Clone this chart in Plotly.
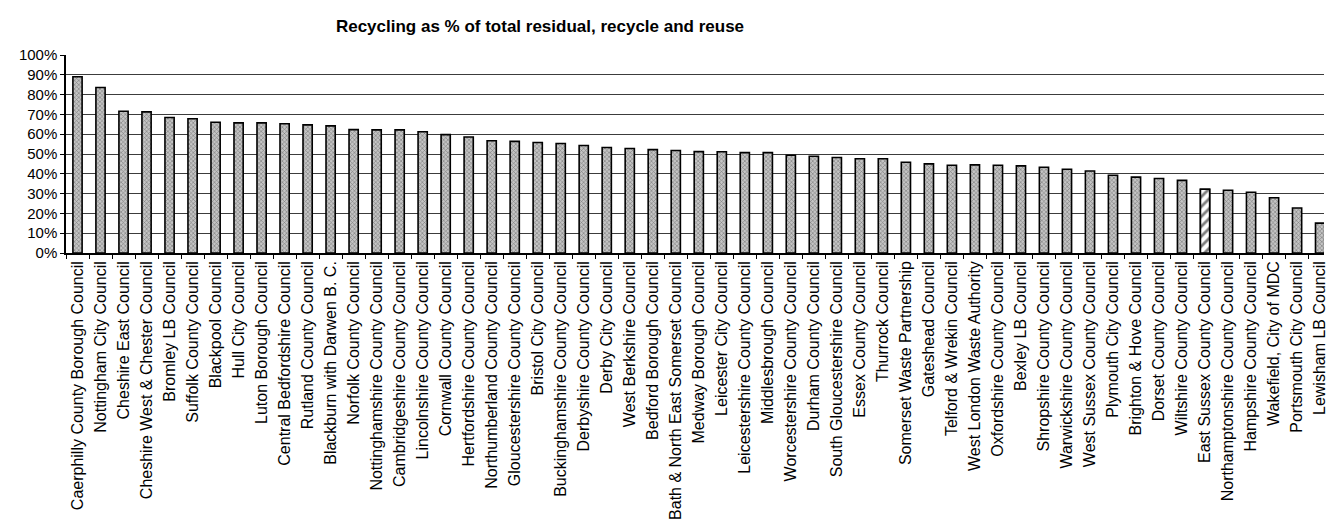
import plotly.graph_objects as go

councils = [
    "Caerphilly County Borough Council", "Nottingham City Council", "Cheshire East Council",
    "Cheshire West & Chester Council", "Bromley LB Council", "Suffolk County Council",
    "Blackpool Council", "Hull City Council", "Luton Borough Council",
    "Central Bedfordshire Council", "Rutland County Council", "Blackburn with Darwen B. C.",
    "Norfolk County Council", "Nottinghamshire County Council", "Cambridgeshire County Council",
    "Lincolnshire County Council", "Cornwall County Council", "Hertfordshire County Council",
    "Northumberland County Council", "Gloucestershire County Council", "Bristol City Council",
    "Buckinghamshire County Council", "Derbyshire County Council", "Derby City Council",
    "West Berkshire Council", "Bedford Borough Council", "Bath & North East Somerset Council",
    "Medway Borough Council", "Leicester City Council", "Leicestershire County Council",
    "Middlesbrough Council", "Worcestershire County Council", "Durham County Council",
    "South Gloucestershire Council", "Essex County Council", "Thurrock Council",
    "Somerset Waste Partnership", "Gateshead Council", "Telford & Wrekin Council",
    "West London Waste Authority", "Oxfordshire County Council", "Bexley LB Council",
    "Shropshire County Council", "Warwickshire County Council", "West Sussex County Council",
    "Plymouth City Council", "Brighton & Hove Council", "Dorset County Council",
    "Wiltshire County Council", "East Sussex County Council", "Northamptonshire County Council",
    "Hampshire County Council", "Wakefield, City of MDC", "Portsmouth City Council",
    "Lewisham LB Council",
]

recycling_pct = [
    89.0, 83.6, 71.6, 71.3, 68.4, 67.8,
    66.0, 65.7, 65.7, 65.3, 64.7, 64.2,
    62.3, 62.2, 62.2, 61.2, 59.8, 58.6,
    56.7, 56.4, 55.8, 55.3, 54.3, 53.3,
    52.8, 52.2, 51.8, 51.2, 51.1, 50.7,
    50.7, 49.4, 48.9, 48.2, 47.6, 47.6,
    45.8, 45.0, 44.3, 44.5, 44.3, 44.0,
    43.3, 42.3, 41.4, 39.3, 38.3, 37.6,
    36.7, 32.2, 31.7, 30.7, 27.9, 22.7,
    15.1,
]

highlight = "East Sussex County Council"

fig = go.Figure()

# all councils: stippled grey bars
fig.add_trace(go.Bar(
    x=councils,
    y=recycling_pct,
    width=0.4,
    marker=dict(
        color="#bdbdbd",
        line=dict(color="black", width=1.6),
        pattern=dict(shape="x", fgcolor="#2a2a2a", bgcolor="#c4c4c4",
                     size=3, solidity=0.35),
    ),
    hovertemplate="%{x}: %{y:.1f}%<extra></extra>",
))

# highlighted council: diagonal hatching drawn on top
hx = [c for c in councils if c == highlight]
hy = [v for c, v in zip(councils, recycling_pct) if c == highlight]
fig.add_trace(go.Bar(
    x=hx,
    y=hy,
    width=0.4,
    marker=dict(
        color="white",
        line=dict(color="black", width=1.6),
        pattern=dict(shape="/", fgcolor="black", bgcolor="white",
                     size=7, solidity=0.4),
    ),
    hovertemplate="%{x}: %{y:.1f}%<extra></extra>",
))

fig.update_layout(
    barmode="overlay",
    width=1328,
    height=522,
    margin=dict(l=66, r=0, t=55, b=269, pad=0),
    paper_bgcolor="white",
    plot_bgcolor="white",
    showlegend=False,
    font=dict(family="Arial, Liberation Sans, sans-serif", color="black"),
    title=dict(
        text="<b>Recycling as % of total residual, recycle and reuse</b>",
        font=dict(size=17, color="black"),
        xref="container", x=540 / 1328, xanchor="center",
        yref="container", y=1 - 26 / 522, yanchor="middle",
    ),
)

fig.update_xaxes(
    type="category",
    categoryorder="array",
    categoryarray=councils,
    range=[-0.5, 54.17],
    tickangle=-90,
    tickfont=dict(size=16, color="black"),
    ticks="outside",
    tickson="boundaries",
    ticklen=4,
    tickcolor="black",
    showline=True,
    linecolor="black",
    linewidth=1.5,
    showgrid=False,
)

fig.update_yaxes(
    range=[0, 100],
    dtick=10,
    ticksuffix="%",
    tickfont=dict(size=15, color="black"),
    ticks="outside",
    ticklen=4,
    tickcolor="black",
    showline=True,
    linecolor="black",
    linewidth=1.5,
    showgrid=True,
    gridcolor="#3c3c3c",
    gridwidth=1,
    zeroline=False,
)

fig.write_html("out.html")
